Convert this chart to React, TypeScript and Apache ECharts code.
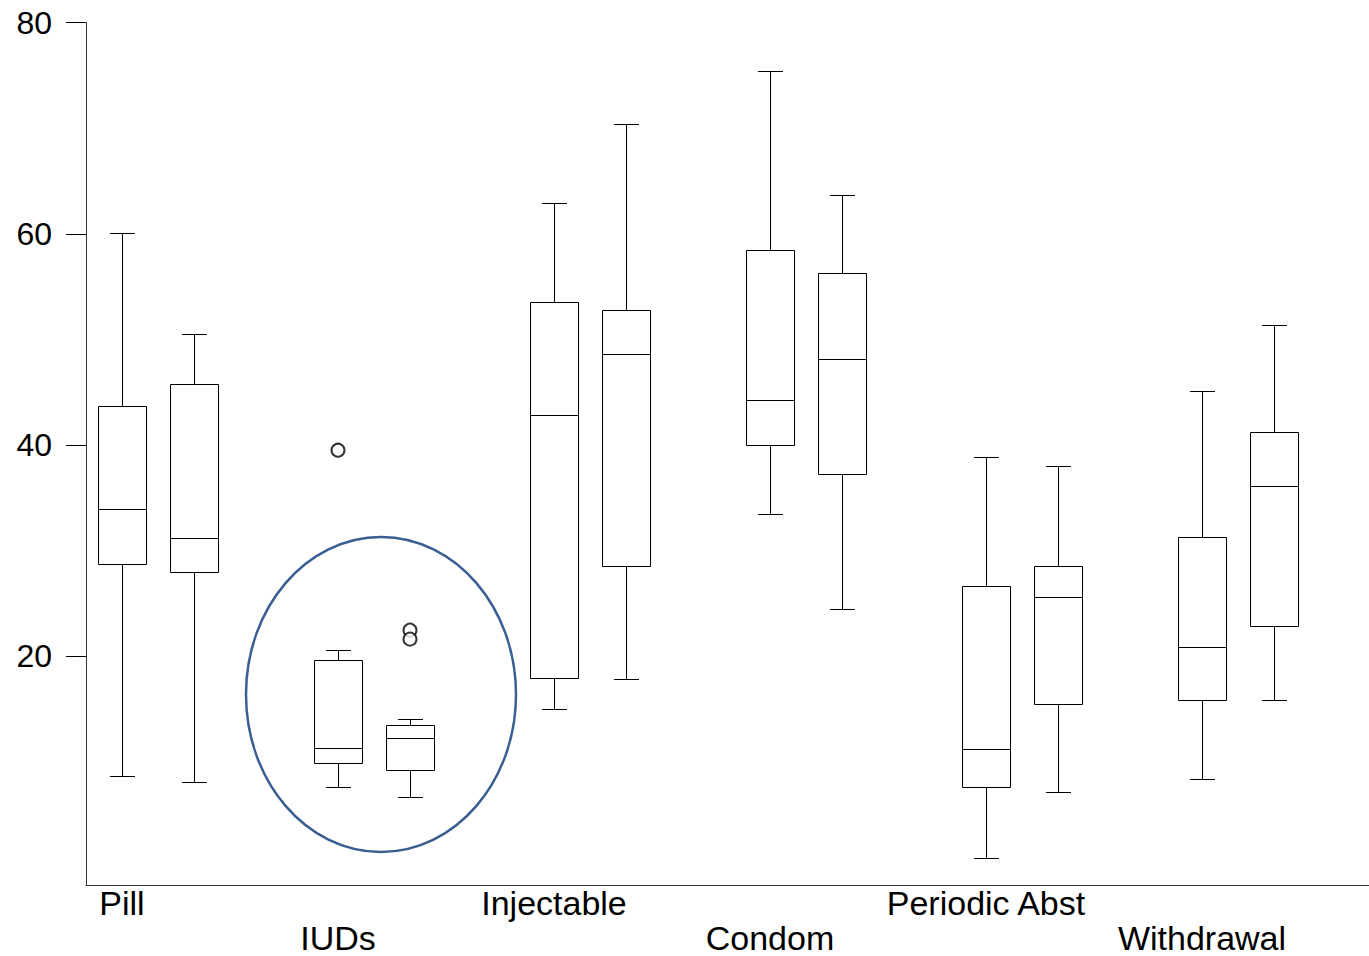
import React, { useEffect, useRef } from "react";
import * as echarts from "echarts";

// Methods (two boxes per method)
const methods = ["Pill", "IUDs", "Injectable", "Condom", "Periodic Abst", "Withdrawal"];
// Each box: [min, q1, median, q3, max]
const firstBoxes = [
  [8.6, 28.75, 33.9, 43.7, 60.1],
  [7.6, 9.85, 11.3, 19.6, 20.6],
  [14.95, 17.9, 42.8, 53.5, 62.9],
  [33.5, 40.0, 44.3, 58.5, 75.4],
  [0.9, 7.6, 11.2, 26.6, 38.9],
  [8.35, 15.8, 20.9, 31.3, 45.1],
];
const secondBoxes = [
  [8.1, 28.0, 31.2, 45.8, 50.5],
  [6.65, 9.2, 12.2, 13.5, 14.0],
  [17.8, 28.5, 48.6, 52.8, 70.4],
  [24.5, 37.2, 48.1, 56.3, 63.7],
  [7.1, 15.5, 25.6, 28.5, 38.0],
  [15.8, 22.8, 36.1, 41.2, 51.4],
];
// Outliers: method index, box index (0 first, 1 second), value
const outlierMethod = [1, 1, 1];
const outlierBox = [0, 1, 1];
const outlierValue = [39.5, 22.45, 21.6];

const yTicks = [20, 40, 60, 80];

export default function App() {
  const ref = useRef<HTMLDivElement>(null);
  useEffect(() => {
    if (!ref.current) return;
    const chart = echarts.init(ref.current, null, { renderer: "svg" });

    const slots: string[] = [];
    methods.forEach((m, i) => {
      slots.push(i % 2 === 1 ? "\n" + m : m);
      slots.push("");
      slots.push("");
    });
    const catIds = slots.map((_, i) => "c" + i);

    const boxData: number[][] = [];
    methods.forEach((_, i) => {
      boxData.push([3 * i, ...firstBoxes[i]]);
      boxData.push([3 * i + 1, ...secondBoxes[i]]);
    });
    const outData = outlierValue.map((v, k) => [3 * outlierMethod[k] + outlierBox[k], v]);

    const font = "'Liberation Sans', Arial, sans-serif";

    chart.setOption({
      animation: false,
      backgroundColor: "#fff",
      grid: { left: 86, right: 0, top: 22.7, bottom: 70.3, containLabel: false },
      xAxis: {
        type: "category",
        data: catIds,
        boundaryGap: true,
        axisLine: { show: true, onZero: false, lineStyle: { color: "#333", width: 1 } },
        axisTick: { show: false },
        splitLine: { show: false },
        axisLabel: {
          interval: 0,
          margin: 0,
          fontSize: 34,
          lineHeight: 35,
          color: "#000",
          fontFamily: font,
          formatter: (_v: string, idx: number) => slots[idx],
        },
      },
      yAxis: {
        type: "value",
        min: -1.76,
        max: 80,
        axisLine: { show: true, lineStyle: { color: "#333", width: 1 } },
        axisTick: { show: true, length: 20, customValues: yTicks, lineStyle: { color: "#000", width: 1 } },
        axisLabel: {
          customValues: yTicks,
          margin: 34,
          fontSize: 32,
          color: "#000",
          fontFamily: font,
        },
        splitLine: { show: false },
      },
      series: [
        {
          type: "custom",
          data: boxData,
          encode: { x: 0, y: [1, 2, 3, 4, 5] },
          renderItem: (params: any, api: any) => {
            const x = api.value(0);
            const mn = api.value(1), q1 = api.value(2), md = api.value(3), q3 = api.value(4), mx = api.value(5);
            const cx = Math.round(api.coord([x, md])[0]) + 0.5;
            const py = (v: number) => Math.round(api.coord([x, v])[1]) + 0.5;
            const hw = 24, cw = 12.5;
            const st = { stroke: "#000", lineWidth: 1, fill: null };
            const yMin = py(mn), yQ1 = py(q1), yMd = py(md), yQ3 = py(q3), yMax = py(mx);
            return {
              type: "group",
              children: [
                { type: "line", shape: { x1: cx, y1: yMax, x2: cx, y2: yQ3 }, style: st },
                { type: "line", shape: { x1: cx, y1: yQ1, x2: cx, y2: yMin }, style: st },
                { type: "line", shape: { x1: cx - cw, y1: yMax, x2: cx + cw, y2: yMax }, style: st },
                { type: "line", shape: { x1: cx - cw, y1: yMin, x2: cx + cw, y2: yMin }, style: st },
                { type: "rect", shape: { x: cx - hw, y: yQ3, width: 2 * hw, height: yQ1 - yQ3 }, style: { stroke: "#000", lineWidth: 1, fill: "#fff" } },
                { type: "line", shape: { x1: cx - hw, y1: yMd, x2: cx + hw, y2: yMd }, style: st },
              ],
            };
          },
          z: 2,
        },
        {
          type: "scatter",
          data: outData,
          symbol: "emptyCircle",
          symbolSize: 13,
          itemStyle: { color: "#000", borderColor: "#000", borderWidth: 1 },
          z: 3,
        },
      ],
      graphic: [
        {
          type: "ellipse",
          shape: { cx: 381, cy: 694.5, rx: 135, ry: 157.5 },
          style: { fill: null, stroke: "#3A5D92", lineWidth: 2.5 },
          z: 10,
        },
      ],
    });
    return () => chart.dispose();
  }, []);
  return (
    <div style={{ position: "absolute", left: 0, top: 0, width: 1369, height: 956, overflow: "hidden" }}>
      <div ref={ref} style={{ width: 1382, height: 956 }} />
    </div>
  );
}
